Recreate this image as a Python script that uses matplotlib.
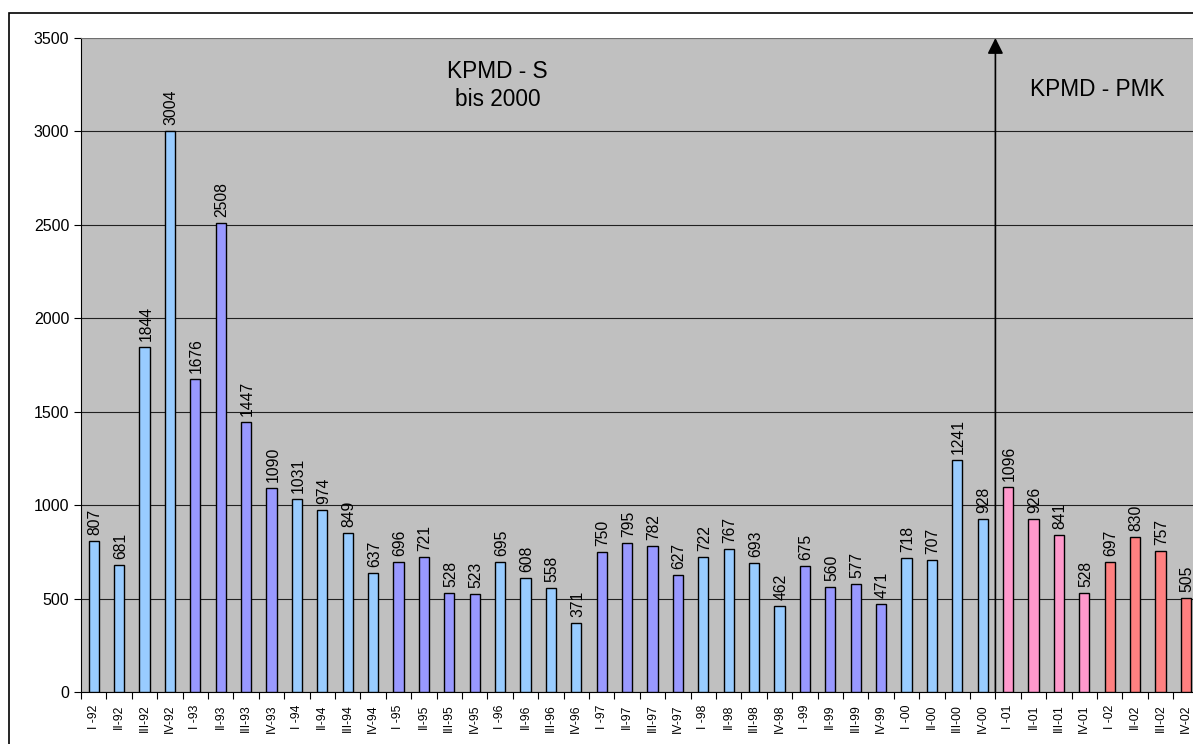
import matplotlib
matplotlib.use("Agg")
import matplotlib.pyplot as plt
from matplotlib.patches import Rectangle

plt.rcParams['font.family'] = ['Liberation Sans', 'DejaVu Sans']

years = ["92", "93", "94", "95", "96", "97", "98", "99", "00", "01", "02"]
quarters = ["I -", "II-", "III-", "IV-"]
labels = [q + y for y in years for q in quarters]
values = [807, 681, 1844, 3004, 1676, 2508, 1447, 1090, 1031, 974, 849, 637,
          696, 721, 528, 523, 695, 608, 558, 371, 750, 795, 782, 627,
          722, 767, 693, 462, 675, 560, 577, 471, 718, 707, 1241, 928,
          1096, 926, 841, 528, 697, 830, 757, 505]
year_colors = {"92": "#99CCFF", "93": "#9999FF", "94": "#99CCFF", "95": "#9999FF",
               "96": "#99CCFF", "97": "#9999FF", "98": "#99CCFF", "99": "#9999FF",
               "00": "#99CCFF", "01": "#FF99CC", "02": "#FF8080"}
colors = [year_colors[y] for y in years for q in quarters]
split_index = 36  # boundary between IV-00 and I-01

fig = plt.figure(figsize=(11.93, 7.44), dpi=100)
fig.patches.append(Rectangle((9 / 1193, -0.1), 1.2, (744 - 13) / 744 + 0.1,
                             transform=fig.transFigure, fill=False,
                             edgecolor='black', linewidth=1.2))
ax = fig.add_axes([81 / 1193, 52 / 744, 1117.6 / 1193, 654 / 744])
ax.set_facecolor('#C0C0C0')

n = len(values)
x = list(range(n))
ax.bar(x, values, width=0.4, color=colors, edgecolor='black', linewidth=1.0, zorder=3)

for xi, v in zip(x, values):
    ax.text(xi + 0.05, v + 32, str(v), rotation=90, ha='center', va='bottom',
            fontsize=11.3, zorder=4)

ax.set_xlim(-0.5, n - 0.5)
ax.set_ylim(0, 3500)
ax.set_yticks(range(0, 3501, 500))
ax.yaxis.grid(True, color='#202020', linewidth=0.8, zorder=0)
ax.set_axisbelow(True)
ax.tick_params(axis='y', labelsize=11.5, direction='out', length=5)

ax.set_xticks([i - 0.5 for i in range(n + 1)])
ax.set_xticklabels([])
ax.tick_params(axis='x', which='major', direction='out', length=5)
ax.set_xticks(x, minor=True)
ax.set_xticklabels(labels, minor=True, rotation=90, fontsize=8.7)
ax.tick_params(axis='x', which='minor', length=0, pad=9)

for s in ['top', 'right']:
    ax.spines[s].set_visible(False)
ax.spines['left'].set_color('black')
ax.spines['bottom'].set_color('black')
ax.axhline(3500, color='#808080', linewidth=1.2, zorder=5)

bx = split_index - 0.5
ax.annotate('', xy=(bx, 3500), xytext=(bx, 0),
            arrowprops=dict(arrowstyle='-|>,head_length=0.5,head_width=0.25',
                            color='black', lw=1.2,
                            mutation_scale=19, shrinkA=0, shrinkB=0), zorder=6)

ax.text(15.9, 3245, "KPMD - S\nbis 2000", ha='center', va='center',
        fontsize=16.3, linespacing=1.25)
ax.text(39.5, 3222, "KPMD - PMK", ha='center', va='center', fontsize=16.3)

fig.savefig("out.png", dpi=100)
